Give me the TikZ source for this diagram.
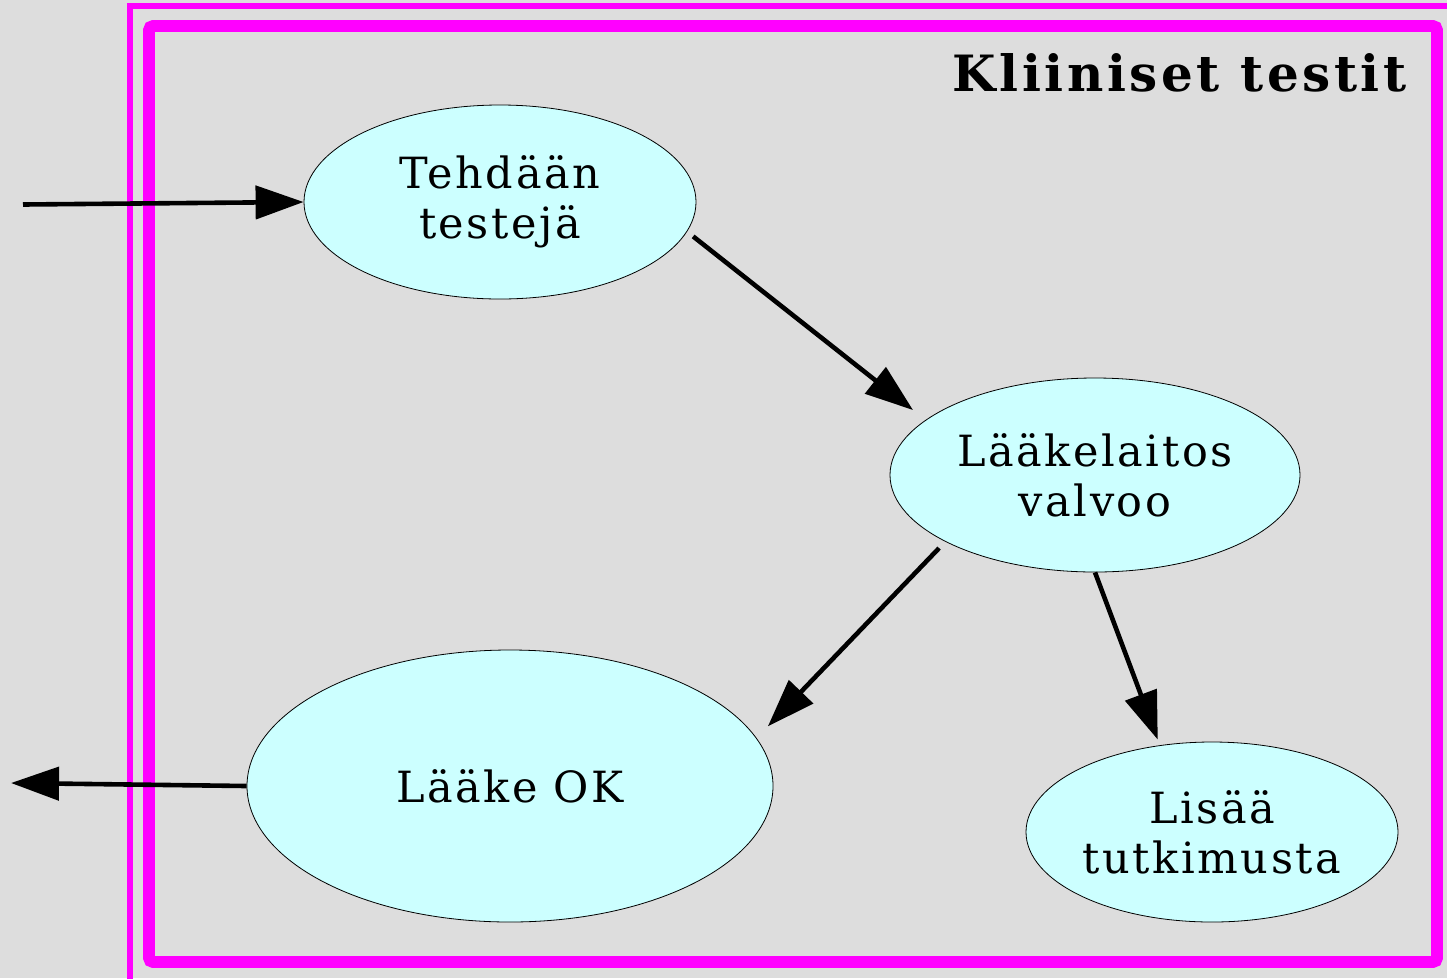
\documentclass[tikz,border=0pt]{standalone}
\usepackage{fontspec}
\usetikzlibrary{shapes.geometric,arrows.meta}
\newfontfamily\nodefont{DejaVu Serif}[LetterSpace=6]
\newfontfamily\titlefont{DejaVu Serif}[LetterSpace=7]
\definecolor{bggray}{RGB}{221,221,221}
\definecolor{nodecyan}{RGB}{204,255,255}
\definecolor{frame}{RGB}{255,0,255}
\tikzset{
  state/.style={ellipse, draw=black, line width=0.8pt, fill=nodecyan, inner sep=0pt,
    align=center, font=\nodefont\fontsize{43}{50}\selectfont},
  flow/.style={line width=4.6pt, -{Triangle[length=48pt,width=33pt]}},
}
\begin{document}
\begin{tikzpicture}[x=1pt,y=-1pt]
\useasboundingbox (0,0) rectangle (1447,978);
\fill[bggray] (0,0) rectangle (1447,978);
\begin{scope}
\clip (0,0) rectangle (1447,978);
\draw[frame, line width=6pt] (129.5,6.3) rectangle (1470,1000);
\end{scope}
\draw[frame, line width=11.7pt, rounded corners=4pt] (149,26) rectangle (1437,962);
\node[anchor=base east, font=\titlefont\bfseries\fontsize{50}{58}\selectfont] (title) at (1410,91.7) {Kliiniset testit};

\node[state, minimum width=392pt, minimum height=194pt] (tests) at (500,202) {Tehdään\\testejä};
\node[state, minimum width=410pt, minimum height=194pt] (agency) at (1095,475) {Lääkelaitos\\valvoo};
\node[state, minimum width=526pt, minimum height=272pt] (ok) at (510,786) {Lääke OK};
\node[state, minimum width=372pt, minimum height=180pt] (more) at (1212,832) {Lisää\\tutkimusta};

\coordinate (entry) at (23,204.5);
\coordinate (exit) at (11,783);

\draw[flow] (entry) -- (tests.west);
\draw[flow, shorten <=7.7pt, shorten >=16pt] (tests.-9) -- (agency.162);
\draw[flow, shorten <=8.9pt, shorten >=16.3pt] (agency.204.2) -- (ok.11.6);
\draw[flow, shorten >=6pt] (agency.270) -- (more.121.5);
\draw[flow] (ok.west) -- (exit);
\end{tikzpicture}
\end{document}
